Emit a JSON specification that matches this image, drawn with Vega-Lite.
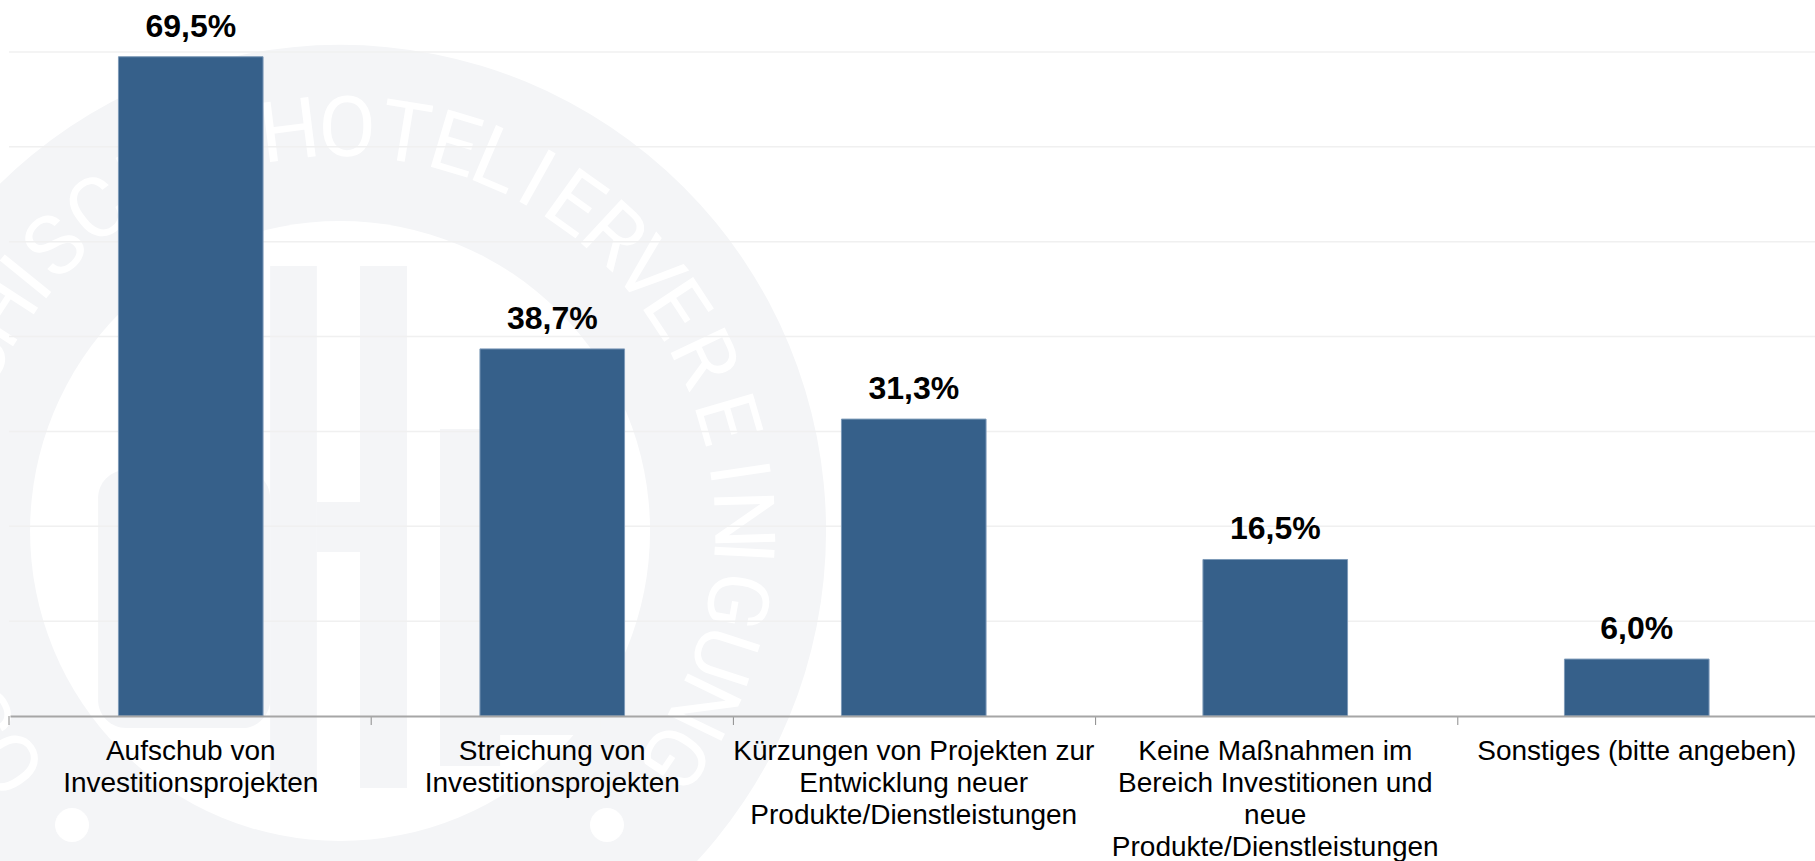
{"$schema":"https://vega.github.io/schema/vega-lite/v6.json","width":1806,"height":664,"autosize":"none","padding":{"left":9,"top":52,"right":0,"bottom":145},"background":"white","view":{"stroke":null},"config":{"font":"Liberation Sans"},"datasets":{"bars":[{"kategorie":"Aufschub von\nInvestitionsprojekten","anteil":69.5,"text":"69,5%"},{"kategorie":"Streichung von\nInvestitionsprojekten","anteil":38.7,"text":"38,7%"},{"kategorie":"Kürzungen von Projekten zur\nEntwicklung neuer\nProdukte/Dienstleistungen","anteil":31.3,"text":"31,3%"},{"kategorie":"Keine Maßnahmen im\nBereich Investitionen und\nneue\nProdukte/Dienstleistungen","anteil":16.5,"text":"16,5%"},{"kategorie":"Sonstiges (bitte angeben)","anteil":6.0,"text":"6,0%"}],"grid":[{"v":10},{"v":20},{"v":30},{"v":40},{"v":50},{"v":60},{"v":70}],"striche":[{"t":0},{"t":1},{"t":2},{"t":3},{"t":4}],"logo":[{"teil":"Siegel"}],"schrift":[{"z":"S","deg":242.5},{"z":"Ö","deg":235},{"z":"C","deg":295.4},{"z":"H","deg":303},{"z":"I","deg":309},{"z":"S","deg":315},{"z":"C","deg":323},{"z":"H","deg":332},{"z":"E","deg":340},{"z":"H","deg":352.8},{"z":"O","deg":1},{"z":"T","deg":9.3},{"z":"E","deg":16.6},{"z":"L","deg":23.1},{"z":"I","deg":29.2},{"z":"E","deg":35.6},{"z":"R","deg":42.8},{"z":"V","deg":49.9},{"z":"E","deg":56.5},{"z":"R","deg":64.6},{"z":"E","deg":73.8},{"z":"I","deg":81.6},{"z":"N","deg":88.4},{"z":"I","deg":93},{"z":"G","deg":100},{"z":"U","deg":108},{"z":"N","deg":115.8},{"z":"G","deg":124}]},"resolve":{"scale":{"x":"independent"},"axis":{"x":"independent"}},"layer":[{"data":{"name":"logo"},"mark":{"type":"circle","size":944784,"fill":"#f4f5f7","opacity":1},"encoding":{"x":{"datum":0.914,"type":"quantitative","scale":{"domain":[0,5],"range":[0,1811]},"axis":null},"y":{"datum":19.5,"type":"quantitative","scale":{"domain":[0,70]},"axis":null}}},{"data":{"name":"logo"},"mark":{"type":"circle","size":384400,"fill":"#ffffff","opacity":1},"encoding":{"x":{"datum":0.914,"type":"quantitative","scale":{"domain":[0,5],"range":[0,1811]},"axis":null},"y":{"datum":19.5,"type":"quantitative","scale":{"domain":[0,70]},"axis":null}}},{"data":{"name":"logo"},"mark":{"type":"rect","fill":"#f4f5f7","cornerRadius":28},"encoding":{"x":{"datum":0.246,"type":"quantitative","scale":{"domain":[0,5],"range":[0,1811]},"axis":null},"x2":{"datum":0.721},"y":{"datum":25.93,"type":"quantitative","scale":{"domain":[0,70]},"axis":null},"y2":{"datum":-1.27}}},{"data":{"name":"logo"},"mark":{"type":"rect","fill":"#f4f5f7"},"encoding":{"x":{"datum":0.721,"type":"quantitative","scale":{"domain":[0,5],"range":[0,1811]},"axis":null},"x2":{"datum":0.85},"y":{"datum":47.44,"type":"quantitative","scale":{"domain":[0,70]},"axis":null},"y2":{"datum":-7.59}}},{"data":{"name":"logo"},"mark":{"type":"rect","fill":"#f4f5f7"},"encoding":{"x":{"datum":0.969,"type":"quantitative","scale":{"domain":[0,5],"range":[0,1811]},"axis":null},"x2":{"datum":1.099},"y":{"datum":47.44,"type":"quantitative","scale":{"domain":[0,70]},"axis":null},"y2":{"datum":-7.59}}},{"data":{"name":"logo"},"mark":{"type":"rect","fill":"#f4f5f7"},"encoding":{"x":{"datum":0.85,"type":"quantitative","scale":{"domain":[0,5],"range":[0,1811]},"axis":null},"x2":{"datum":0.969},"y":{"datum":22.56,"type":"quantitative","scale":{"domain":[0,70]},"axis":null},"y2":{"datum":17.29}}},{"data":{"name":"logo"},"mark":{"type":"rect","fill":"#f4f5f7"},"encoding":{"x":{"datum":1.19,"type":"quantitative","scale":{"domain":[0,5],"range":[0,1811]},"axis":null},"x2":{"datum":1.632},"y":{"datum":30.26,"type":"quantitative","scale":{"domain":[0,70]},"axis":null},"y2":{"datum":-2.0}}},{"data":{"name":"logo"},"mark":{"type":"rect","fill":"#f4f5f7"},"encoding":{"x":{"datum":1.19,"type":"quantitative","scale":{"domain":[0,5],"range":[0,1811]},"axis":null},"x2":{"datum":1.356},"y":{"datum":0,"type":"quantitative","scale":{"domain":[0,70]},"axis":null},"y2":{"datum":-5.27}}},{"data":{"name":"logo"},"mark":{"type":"circle","size":1156,"fill":"#ffffff","opacity":1},"encoding":{"x":{"datum":0.174,"type":"quantitative","scale":{"domain":[0,5],"range":[0,1811]},"axis":null},"y":{"datum":-11.49,"type":"quantitative","scale":{"domain":[0,70]},"axis":null}}},{"data":{"name":"logo"},"mark":{"type":"circle","size":1156,"fill":"#ffffff","opacity":1},"encoding":{"x":{"datum":1.651,"type":"quantitative","scale":{"domain":[0,5],"range":[0,1811]},"axis":null},"y":{"datum":-11.49,"type":"quantitative","scale":{"domain":[0,70]},"axis":null}}},{"data":{"name":"schrift"},"mark":{"type":"text","font":"Roboto","fontSize":84,"fill":"#ffffff","baseline":"middle","align":"center"},"encoding":{"x":{"datum":0.914,"type":"quantitative","scale":{"domain":[0,5],"range":[0,1811]},"axis":null},"y":{"datum":19.5,"type":"quantitative","scale":{"domain":[0,70]},"axis":null},"theta":{"field":"deg","type":"quantitative","scale":{"domain":[0,360],"range":[0,6.28318]}},"radius":{"value":400},"angle":{"field":"deg","type":"quantitative","scale":null},"text":{"field":"z","type":"nominal"}}},{"data":{"name":"grid"},"mark":{"type":"rule","stroke":"#f0f0f0","strokeWidth":1.5},"encoding":{"y":{"field":"v","type":"quantitative","scale":{"domain":[0,70]},"axis":null}}},{"data":{"name":"bars"},"mark":{"type":"bar","fill":"#36608a","stroke":"#7d9ab8","strokeWidth":1},"encoding":{"x":{"field":"kategorie","type":"nominal","sort":null,"scale":{"range":[1,1808.5],"paddingInner":0.6,"paddingOuter":0.3},"axis":{"title":null,"labelAngle":0,"labelFontSize":28,"labelColor":"#000000","labelFont":"Liberation Sans","labelLineHeight":32,"labelLimit":0,"labelPadding":21,"labelOverlap":false,"labelFlush":false,"labelBaseline":"top","labelExpr":"split(datum.value,'\\n')","ticks":false,"domainColor":"#a6a6a6","domainWidth":2,"grid":false,"zindex":1}},"y":{"field":"anteil","type":"quantitative","scale":{"domain":[0,70]},"axis":null}}},{"data":{"name":"striche"},"mark":{"type":"rule","stroke":"#8c8c8c","strokeWidth":1},"encoding":{"x":{"field":"t","type":"quantitative","scale":{"domain":[0,5],"range":[0,1811]},"axis":null},"y":{"datum":0,"type":"quantitative","scale":{"domain":[0,70]},"axis":null},"y2":{"datum":-0.95}}},{"data":{"name":"bars"},"mark":{"type":"text","font":"Liberation Sans","fontWeight":"bold","fontSize":32,"fill":"#000000","baseline":"alphabetic","align":"center","dy":-20},"encoding":{"x":{"field":"kategorie","type":"nominal","sort":null,"scale":{"range":[1,1808.5],"paddingInner":0.6,"paddingOuter":0.3},"axis":null},"y":{"field":"anteil","type":"quantitative","scale":{"domain":[0,70]},"axis":null},"text":{"field":"text","type":"nominal"}}}]}
